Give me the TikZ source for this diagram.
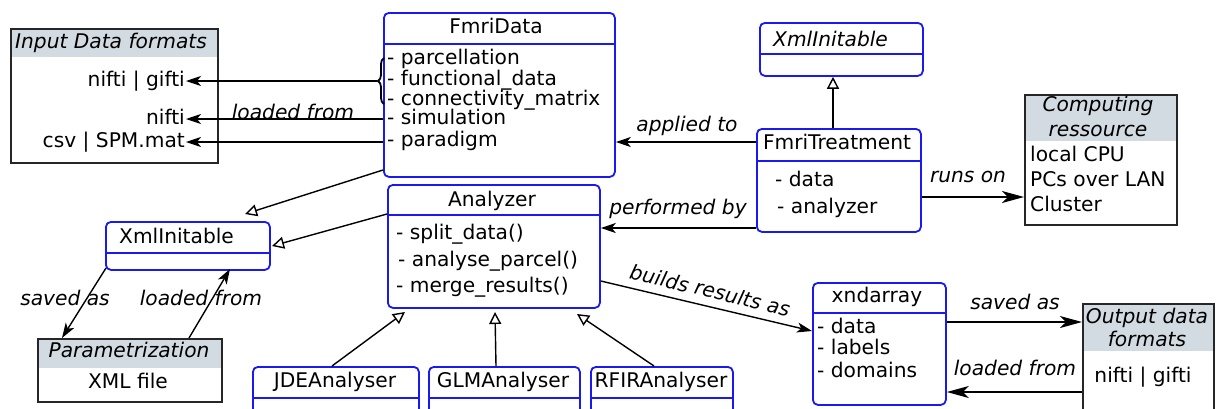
\documentclass[tikz,border=0pt]{standalone}
\usepackage{fontspec}
\setmainfont{DejaVu Sans}
\usetikzlibrary{arrows.meta,decorations.pathreplacing}
\definecolor{hdr}{RGB}{211,219,226}
\definecolor{umlblue}{RGB}{25,25,240}
\newcommand{\fsz}{\fontsize{20.2}{22}\selectfont}
\begin{document}
\begin{tikzpicture}[x=1pt,y=-1pt,
  cls/.style={draw=umlblue, line width=1.8pt, rounded corners=5pt, anchor=north west, inner sep=0pt},
  box/.style={draw=black!85, line width=1.8pt, anchor=north west, inner sep=0pt},
  sep/.style={draw=umlblue, line width=1.8pt},
  t/.style={inner sep=1pt, text height=14pt, text depth=4pt, font=\fsz},
  tl/.style={t, anchor=west},
  it/.style={t, font=\fsz\itshape},
  arr/.style={line width=1.4pt, -{Stealth[length=15pt,width=10pt,inset=4pt]}},
  arrbig/.style={line width=1.4pt, -{Stealth[length=22pt,width=12pt,inset=6pt]}},
  inh/.style={line width=1.4pt, -{Triangle[open,length=12pt,width=12pt,fill=white]}}]
\useasboundingbox (0,0) rectangle (1216,408);

% ---------- Input Data formats
\fill[hdr] (10,28) rectangle (217,57);
\node[box, minimum width=207pt, minimum height=134pt] (in) at (10,28) {};
\node[it] (inh) at (111,43) {Input Data formats};
\node[t, anchor=east] (ing) at (186,81) {nifti | gifti};
\node[t, anchor=east] (inn) at (186,119) {nifti};
\node[t, anchor=east] (incsv) at (186,142) {csv | SPM.mat};

% ---------- FmriData
\node[cls, minimum width=231pt, minimum height=164pt] (fd) at (383,12) {};
\draw[sep] (383,44) -- (614,44);
\node[t] (fdt) at (496,28) {FmriData};
\node[tl] (fd1) at (386,59) {- parcellation};
\node[tl] (fd2) at (386,80) {- functional\_data};
\node[tl] (fd3) at (386,100) {- connectivity\_matrix};
\node[tl] (fd4) at (386,119) {- simulation};
\node[tl] (fd5) at (386,141) {- paradigm};
\draw[line width=1.8pt, decorate, decoration={brace, amplitude=6pt}] (384,104) -- (384,58);
\coordinate (bt) at (377,81);
\draw[arr] (bt) -- (bt -| ing.east);
\coordinate (sim) at (383,119);
\draw[arr] (sim) -- (sim -| inn.east);
\node[it, anchor=base] (lf1) at (293,119) {loaded from};
\coordinate (par) at (383,142);
\draw[arr] (par) -- (par -| incsv.east);

% ---------- XmlInitable (top)
\node[cls, minimum width=163pt, minimum height=53pt] (xt) at (759,22) {};
\draw[sep] (759,54) -- (922,54);
\node[it, anchor=west] (xtt) at (772,41) {XmlInitable};

% ---------- FmriTreatment
\node[cls, minimum width=164pt, minimum height=103pt] (ft) at (756,128) {};
\draw[sep] (756,161) -- (920,161);
\node[t] (ftt) at (837,144) {FmriTreatment};
\node[tl] (ft1) at (774,181) {- data};
\node[tl] (ft2) at (776,208) {- analyzer};
\draw[inh] (ft.north -| 833,0) -- (xt.south -| 833,0);
\draw[arr] (ft.west |- 0,142) -- (fd.east |- 0,142);
\node[it] (lapp) at (687,126) {applied to};

% ---------- Computing ressource
\fill[hdr] (1024,94) rectangle (1176,141);
\node[box, minimum width=152pt, minimum height=130pt] (cr) at (1024,94) {};
\node[it] (cr1) at (1098,106) {Computing};
\node[it] (cr2) at (1098,131) {ressource};
\node[tl] (cr3) at (1029,156) {local CPU};
\node[tl] (cr4) at (1029,181) {PCs over LAN};
\node[tl] (cr5) at (1029,206) {Cluster};
\draw[arrbig] (ft.east |- 0,197) -- (cr.west |- 0,197);
\node[it] (lrun) at (968,177) {runs on};

% ---------- Analyzer
\node[cls, minimum width=212pt, minimum height=123pt] (an) at (387,184) {};
\draw[sep] (387,215) -- (599,215);
\node[t] (ant) at (492,201) {Analyzer};
\node[tl] (an1) at (395,234) {- split\_data()};
\node[tl] (an2) at (397,261) {- analyse\_parcel()};
\node[tl] (an3) at (395,287) {- merge\_results()};
\draw[arr] (ft.west |- 0,228) -- (an.east |- 0,228);
\node[it] (lperf) at (678,209) {performed by};

% ---------- XmlInitable (left)
\node[cls, minimum width=164pt, minimum height=48pt] (xl) at (105,221) {};
\draw[sep] (105,253) -- (269,253);
\node[tl] (xlt) at (118,238) {XmlInitable};
\coordinate (fdl) at (383,170);
\draw[inh] (fdl) -- (245,214);
\coordinate (anl) at (387,214);
\draw[inh] (anl) -- (272,246);

% ---------- Parametrization
\fill[hdr] (37,338) rectangle (221,368);
\node[box, minimum width=184pt, minimum height=63pt] (pm) at (37,338) {};
\node[it] (pmt) at (129,352) {Parametrization};
\node[t] (pm1) at (128,383) {XML file};
\coordinate (xls) at (106,268);
\coordinate (pms) at (62,338);
\draw[arr] (xls) -- (pms);
\node[it] (lsv) at (65,300) {saved as};
\coordinate (pml) at (189,338);
\coordinate (xll) at (230,269);
\draw[arr] (pml) -- (xll);
\node[it] (llf2) at (201,300) {loaded from};

% ---------- Analysers
\node[cls, minimum width=166pt, minimum height=60pt] (jde) at (252,366) {};
\draw[sep] (252,398) -- (418,398);
\node[t] (jdet) at (335,382) {JDEAnalyser};
\node[cls, minimum width=151pt, minimum height=60pt] (glm) at (428,366) {};
\draw[sep] (428,398) -- (579,398);
\node[t] (glmt) at (503,382) {GLMAnalyser};
\node[cls, minimum width=142pt, minimum height=60pt] (rf) at (590,366) {};
\draw[sep] (590,398) -- (732,398);
\node[t] (rft) at (661,382) {RFIRAnalyser};
\draw[inh] (jde.north -| 332,0) -- (405,312);
\draw[inh] (glm.north -| 496,0) -- (495,312);
\draw[inh] (rf.north -| 654,0) -- (577,314);

% ---------- xndarray
\node[cls, minimum width=133pt, minimum height=122pt] (xn) at (812,282) {};
\draw[sep] (812,313) -- (945,313);
\node[t] (xnt) at (877,297) {xndarray};
\node[tl] (xn1) at (816,328) {- data};
\node[tl] (xn2) at (816,349) {- labels};
\node[tl] (xn3) at (816,372) {- domains};
\draw[arr] (an.east |- 0,281) -- node[it, sloped, above=3pt] {builds results as} (xn.west |- 0,331);

% ---------- Output data formats
\fill[hdr] (1082,303) rectangle (1213,351);
\node[box, minimum width=131pt, minimum height=110pt] (out) at (1082,303) {};
\node[it] (out1) at (1147,318) {Output data};
\node[it] (out2) at (1147,341) {formats};
\node[t] (out3) at (1143,377) {nifti | gifti};
\draw[arrbig] (xn.east |- 0,322) -- (out.west |- 0,322);
\node[it] (lsv2) at (1015,304) {saved as};
\draw[arrbig] (out.west |- 0,392) -- (xn.east |- 0,392);
\node[it] (llf3) at (1015,370) {loaded from};
\end{tikzpicture}
\end{document}
